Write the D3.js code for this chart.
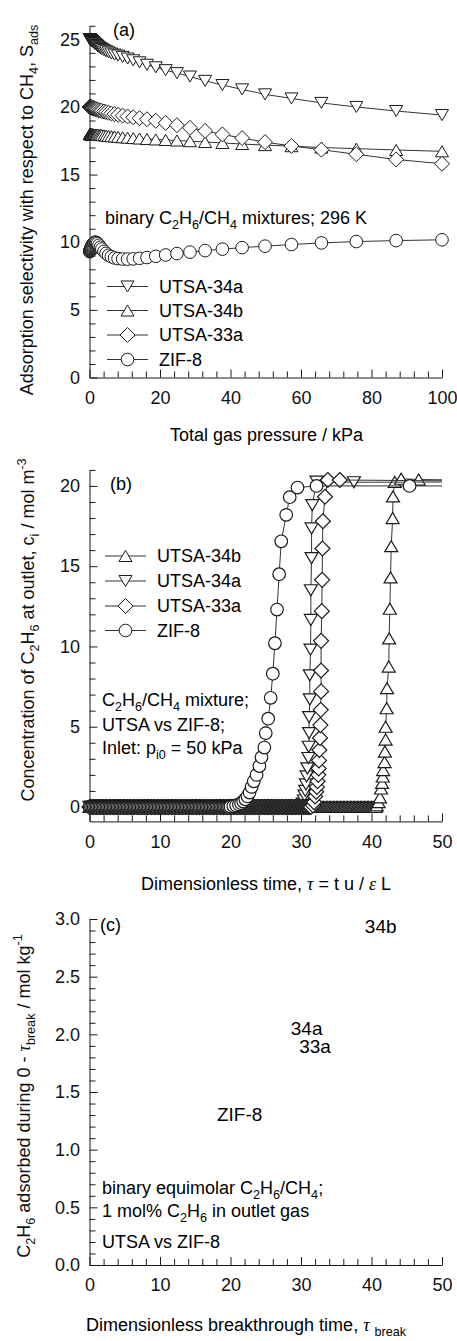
<!DOCTYPE html>
<html>
<head>
<meta charset="utf-8">
<script src="https://cdn.jsdelivr.net/npm/d3@7"></script>
<style>
  body { margin: 0; background: #fff; }
  svg { font-family: "Liberation Sans", Arial, sans-serif; }
  text { white-space: pre; }
</style>
</head>
<body>
<svg id="chart" width="457" height="1341"></svg>
<script>
// ---- panel (a): selectivity vs total pressure ----
const pressure = [0.1, 0.12, 0.14, 0.165, 0.19, 0.22, 0.25, 0.29, 0.33, 0.38,
  0.44, 0.5, 0.58, 0.66, 0.76, 0.88, 1.0, 1.16, 1.33, 1.53,
  1.76, 2.0, 2.3, 2.7, 3.1, 3.5, 4.1, 4.7, 5.4, 6.2,
  7.1, 8.1, 9.4, 10.8, 12.4, 14.2, 16.3, 18.8, 21.6, 24.8,
  28.5, 32.8, 37.7, 43.3, 49.8, 57.3, 65.8, 75.7, 87, 100];
const selUtsa34a = [25.0, 25.0, 25.0, 24.99, 24.99, 24.98, 24.97, 24.96, 24.95, 24.94,
  24.93, 24.92, 24.9, 24.88, 24.87, 24.84, 24.8, 24.76, 24.72, 24.68,
  24.63, 24.58, 24.5, 24.42, 24.35, 24.28, 24.2, 24.12, 24.04, 23.95,
  23.87, 23.8, 23.7, 23.58, 23.45, 23.3, 23.12, 22.93, 22.72, 22.5,
  22.25, 21.93, 21.62, 21.3, 20.93, 20.63, 20.3, 20.0, 19.7, 19.4];
const selUtsa34b = [18.0, 18.0, 18.0, 18.0, 18.0, 18.0, 17.99, 17.99, 17.99, 17.99,
  17.99, 17.98, 17.98, 17.98, 17.98, 17.97, 17.97, 17.97, 17.96, 17.96,
  17.96, 17.95, 17.95, 17.94, 17.93, 17.92, 17.9, 17.88, 17.86, 17.84,
  17.82, 17.79, 17.76, 17.73, 17.7, 17.67, 17.63, 17.6, 17.56, 17.52,
  17.47, 17.41, 17.34, 17.26, 17.18, 17.1, 17.0, 16.92, 16.82, 16.72];
const selUtsa33a = [20.0, 20.0, 20.0, 20.0, 20.0, 19.99, 19.99, 19.99, 19.98, 19.98,
  19.97, 19.97, 19.96, 19.95, 19.94, 19.93, 19.92, 19.9, 19.88, 19.86,
  19.84, 19.82, 19.8, 19.76, 19.73, 19.7, 19.66, 19.62, 19.57, 19.52,
  19.47, 19.42, 19.36, 19.3, 19.24, 19.17, 19.09, 18.98, 18.82, 18.65,
  18.46, 18.23, 17.97, 17.7, 17.4, 17.12, 16.84, 16.5, 16.12, 15.8];
const selZif8 = [9.3, 9.32, 9.34, 9.36, 9.38, 9.4, 9.43, 9.46, 9.5, 9.54,
  9.58, 9.62, 9.67, 9.72, 9.77, 9.83, 9.88, 9.93, 9.97, 10.0,
  10.0, 9.97, 9.9, 9.78, 9.63, 9.5, 9.33, 9.18, 9.04, 8.93,
  8.84, 8.79, 8.76, 8.75, 8.77, 8.81, 8.87, 8.96, 9.06, 9.16,
  9.27, 9.38, 9.49, 9.6, 9.71, 9.83, 9.95, 10.05, 10.12, 10.18];
const aXTicks = [0, 20, 40, 60, 80, 100];
const aYTicks = [0, 5, 10, 15, 20, 25];

// ---- panel (b): breakthrough curves ----
// time points at which the outlet concentration is still zero
const tauGrid = [
  0, 0.2, 0.4, 0.6, 0.8, 1, 1.2, 1.4, 1.6, 1.8, 2, 2.2, 2.4, 2.6, 2.8, 3, 3.2, 3.4, 3.6, 3.8,
  4, 4.2, 4.4, 4.6, 4.8, 5, 5.2, 5.4, 5.6, 5.8, 6, 6.2, 6.4, 6.6, 6.8, 7, 7.2, 7.4, 7.6, 7.8,
  8, 8.2, 8.4, 8.6, 8.8, 9, 9.2, 9.4, 9.6, 9.8, 10, 10.2, 10.4, 10.6, 10.8, 11, 11.2, 11.4, 11.6, 11.8,
  12, 12.2, 12.4, 12.6, 12.8, 13, 13.2, 13.4, 13.6, 13.8, 14, 14.2, 14.4, 14.6, 14.8, 15, 15.2, 15.4, 15.6, 15.8,
  16, 16.2, 16.4, 16.6, 16.8, 17, 17.2, 17.4, 17.6, 17.8, 18, 18.2, 18.4, 18.6, 18.8, 19, 19.2, 19.4, 19.6, 19.8,
  20, 20.2, 20.4, 20.6, 20.8, 21, 21.2, 21.4, 21.6, 21.8, 22, 22.2, 22.4, 22.6, 22.8, 23, 23.2, 23.4, 23.6, 23.8,
  24, 24.2, 24.4, 24.6, 24.8, 25, 25.2, 25.4, 25.6, 25.8, 26, 26.2, 26.4, 26.6, 26.8, 27, 27.2, 27.4, 27.6, 27.8,
  28, 28.2, 28.4, 28.6, 28.8, 29, 29.2, 29.4, 29.6, 29.8, 30, 30.2, 30.4, 30.6, 30.8, 31, 31.2, 31.4, 31.6, 31.8,
  32, 32.2, 32.4, 32.6, 32.8, 33, 33.2, 33.4, 33.6, 33.8, 34, 34.2, 34.4, 34.6, 34.8, 35, 35.2, 35.4, 35.6, 35.8,
  36, 36.2, 36.4, 36.6, 36.8, 37, 37.2, 37.4, 37.6, 37.8, 38, 38.2, 38.4, 38.6, 38.8, 39, 39.2, 39.4, 39.6, 39.8,
  40, 40.2, 40.4, 40.6];
const flatEnd = { "UTSA-34b": 40.6, "UTSA-34a": 30.0, "UTSA-33a": 31.4, "ZIF-8": 19.8 };
const tau34b = [40.75, 41.0, 41.2, 41.35, 41.5, 41.6, 41.65, 41.85, 41.9, 42.0, 42.0, 42.15,
  42.2, 42.45, 42.5, 42.6, 42.7, 42.8, 43.0, 43.05, 43.3, 44.2, 46.7, 56];
const conc34b = [0.1, 0.3, 0.6, 1.15, 1.5, 1.9, 2.3, 2.8, 3.45, 4.2, 5.0, 6.15,
  7.4, 8.75, 10.5, 12.35, 14.3, 16.25, 18.0, 19.35, 20.25, 20.45, 20.4, 20.35];
const tau34a = [30.1, 30.25, 30.4, 30.5, 30.6, 30.7, 30.8, 30.9, 31.05, 31.1, 31.15, 31.15,
  31.25, 31.25, 31.35, 31.4, 31.4, 31.5, 31.5, 31.6, 32.2, 37.5, 56];
const conc34a = [0.08, 0.2, 0.4, 0.7, 1.0, 1.4, 1.9, 2.4, 3.05, 3.75, 4.6, 5.6,
  6.7, 8.2, 9.8, 11.65, 13.5, 15.5, 17.35, 18.8, 20.27, 20.23, 20.25];
const tau33a = [31.7, 31.85, 32.0, 32.15, 32.25, 32.35, 32.45, 32.5, 32.55, 32.6, 32.7, 32.75,
  32.8, 32.85, 32.85, 32.85, 32.95, 33.0, 33.05, 33.1, 33.4, 33.8, 35.5, 56];
const conc33a = [0.1, 0.3, 0.65, 0.95, 1.25, 1.6, 2.0, 2.4, 2.9, 3.55, 4.3, 5.1,
  6.05, 7.2, 8.5, 10.35, 12.2, 14.15, 16.1, 17.8, 19.33, 20.37, 20.37, 20.3];
const tauZif = [20.0, 20.4, 20.8, 21.2, 21.5, 21.8, 22.1, 22.4, 22.7, 23.0, 23.3, 23.7,
  24.1, 24.4, 24.8, 25.0, 25.35, 25.7, 26.0, 26.3, 26.6, 26.9, 27.2, 27.9,
  28.4, 29.5, 32.2, 45.4, 56];
const concZif = [0.03, 0.06, 0.1, 0.16, 0.24, 0.34, 0.48, 0.66, 0.9, 1.25, 1.6, 2.0,
  2.55, 3.1, 3.7, 4.6, 5.5, 6.8, 8.3, 10.2, 12.3, 14.5, 16.55, 18.2,
  19.3, 19.9, 20.0, 20.0, 20.0];
const bXTicks = [0, 10, 20, 30, 40, 50];
const bYTicks = [0, 5, 10, 15, 20];

// ---- panel (c): uptake vs breakthrough time (text labels) ----
const cNames = ["34b", "34a", "33a", "ZIF-8"];
const tauBreak = [41.3, 30.8, 32.0, 21.3];
const uptake = [2.94, 2.05, 1.9, 1.31];
const cXTicks = [0, 10, 20, 30, 40, 50];
const cYTicks = [0, 0.5, 1.0, 1.5, 2.0, 2.5, 3.0];

const svg = d3.select("#chart");
const xLeft = 89.5, xRight = 442;
const ink = "#1a1a1a";
const FS = 18;

const symbols = {
  down: s => `M${-s},${-s * 0.85}L${s},${-s * 0.85}L0,${s * 0.85}Z`,
  up: s => `M${-s},${s * 0.85}L${s},${s * 0.85}L0,${-s * 0.85}Z`,
  diamond: s => `M0,${-s * 1.15}L${s * 1.15},0L0,${s * 1.15}L${-s * 1.15},0Z`,
  circle: s => `M${-s * 0.97},0A${s * 0.97},${s * 0.97} 0 1,0 ${s * 0.97},0A${s * 0.97},${s * 0.97} 0 1,0 ${-s * 0.97},0Z`
};
const SYM = 6.5;

function rich(sel, parts, size) {
  let shift = 0;
  parts.forEach(p => {
    const seg = typeof p === "string" ? { t: p } : p;
    const fs = seg.sub || seg.sup ? size * 0.7 : size;
    const target = seg.sub ? size * 0.3 : seg.sup ? -size * 0.42 : 0;
    const ts = sel.append("tspan").text(seg.t).attr("font-size", fs).attr("dy", target - shift);
    if (seg.greek) ts.attr("font-family", "'Liberation Serif', serif").attr("font-style", "italic");
    shift = target;
  });
  return sel;
}

function axes(g, x, y, o) {
  const y0 = y.range()[0];
  const bottom = g.append("g").attr("transform", `translate(0,${y0})`);
  bottom.append("g")
    .call(d3.axisBottom(x).tickValues(o.xMinor).tickSize(-6).tickFormat("").tickSizeOuter(0))
    .call(s => s.select(".domain").remove());
  bottom.append("g")
    .call(d3.axisBottom(x).tickValues(o.xTicks).tickSize(-8).tickSizeOuter(0).tickPadding(13.5))
    .attr("font-family", null).attr("font-size", FS);
  const left = g.append("g").attr("transform", `translate(${xLeft},0)`);
  left.append("g")
    .call(d3.axisLeft(y).tickValues(o.yMinor).tickSize(-6).tickFormat("").tickSizeOuter(0))
    .call(s => s.select(".domain").remove());
  left.append("g")
    .call(d3.axisLeft(y).tickValues(o.yTicks).tickSize(-8).tickSizeOuter(0).tickPadding(9.5)
      .tickFormat(o.yFmt || d3.format("d")))
    .attr("font-family", null).attr("font-size", FS);
  g.selectAll(".tick line, .domain").attr("stroke", ink);
  g.selectAll(".tick text").attr("fill", "#111");
}

function series(g, x, y, pts, sym, sw = 1) {
  const s = g.append("g");
  s.append("path").datum(pts)
    .attr("d", d3.line().x(d => x(d[0])).y(d => y(d[1])))
    .attr("fill", "none").attr("stroke", "#333").attr("stroke-width", 1);
  s.selectAll("path.m").data(pts).join("path").attr("class", "m")
    .attr("transform", d => `translate(${x(d[0])},${y(d[1])})`)
    .attr("d", symbols[sym](SYM))
    .attr("fill", "#fff").attr("stroke", ink).attr("stroke-width", sw);
}

function legend(g, items, x0, rows) {
  items.forEach((it, i) => {
    const row = g.append("g").attr("transform", `translate(${x0},${rows[i]})`);
    row.append("line").attr("x1", 0).attr("x2", 41).attr("stroke", "#333");
    row.append("path").attr("transform", "translate(20.5,0)").attr("d", symbols[it.sym](SYM))
      .attr("fill", "#fff").attr("stroke", ink);
    row.append("text").attr("x", 52).attr("dy", "0.36em").attr("font-size", FS).text(it.name);
  });
}

function ytitle(x, y, parts) {
  rich(svg.append("text").attr("transform", `translate(${x},${y}) rotate(-90)`)
    .attr("text-anchor", "middle").attr("fill", "#111"), parts, FS);
}

// ================= panel (a) =================
{
  const g = svg.append("g");
  const x = d3.scaleLinear().domain([0, 100]).range([xLeft, xRight]);
  const y = d3.scaleLinear().domain([0, 26]).range([377.5, 25.8]);
  axes(g, x, y, {
    xTicks: aXTicks, xMinor: d3.range(0, 101, 4).filter(v => v % 20),
    yTicks: aYTicks, yMinor: d3.range(0, 27, 1).filter(v => v % 5)
  });
  const zipA = vals => pressure.map((p, i) => [p, vals[i]]);
  series(g, x, y, zipA(selUtsa34a), "down");
  series(g, x, y, zipA(selUtsa34b), "up");
  series(g, x, y, zipA(selUtsa33a), "diamond");
  series(g, x, y, zipA(selZif8), "circle");
  g.append("text").attr("x", 113).attr("y", 36).attr("font-size", FS).text("(a)");
  rich(g.append("text").attr("x", 105).attr("y", 224),
    ["binary C", { t: "2", sub: 1 }, "H", { t: "6", sub: 1 }, "/CH", { t: "4", sub: 1 }, " mixtures; 296 K"], FS);
  legend(g, [{ name: "UTSA-34a", sym: "down" }, { name: "UTSA-34b", sym: "up" },
    { name: "UTSA-33a", sym: "diamond" }, { name: "ZIF-8", sym: "circle" }], 107, [286.5, 310.5, 335, 359.5]);
  g.append("text").attr("x", 266.5).attr("y", 441).attr("text-anchor", "middle").attr("font-size", FS)
    .text("Total gas pressure / kPa");
  ytitle(33, 210, ["Adsorption selectivity with respect to CH", { t: "4", sub: 1 }, ", S", { t: "ads", sub: 1 }]);
}

// ================= panel (b) =================
{
  const g = svg.append("g");
  const x = d3.scaleLinear().domain([0, 50]).range([xLeft, xRight]);
  const y = d3.scaleLinear().domain([-0.9, 21]).range([821.4, 469.9]);
  axes(g, x, y, {
    xTicks: bXTicks, xMinor: d3.range(0, 51, 2).filter(v => v % 10),
    yTicks: bYTicks, yMinor: d3.range(0, 22, 1).filter(v => v % 5)
  });
  svg.append("clipPath").attr("id", "clipB").append("rect")
    .attr("x", 0).attr("y", 400).attr("width", xRight).attr("height", 440);
  const plot = g.append("g").attr("clip-path", "url(#clipB)");
  const build = (name, taus, cs) =>
    tauGrid.filter(t => t <= flatEnd[name]).map(t => [t, 0]).concat(taus.map((t, i) => [t, cs[i]]));
  series(plot, x, y, build("UTSA-34b", tau34b, conc34b), "up", 1.2);
  series(plot, x, y, build("UTSA-34a", tau34a, conc34a), "down", 1.2);
  series(plot, x, y, build("UTSA-33a", tau33a, conc33a), "diamond", 1.2);
  series(plot, x, y, build("ZIF-8", tauZif, concZif), "circle", 1.2);
  g.append("text").attr("x", 110).attr("y", 490).attr("font-size", FS).text("(b)");
  legend(g, [{ name: "UTSA-34b", sym: "up" }, { name: "UTSA-34a", sym: "down" },
    { name: "UTSA-33a", sym: "diamond" }, { name: "ZIF-8", sym: "circle" }], 105, [556, 581, 606, 630.5]);
  rich(g.append("text").attr("x", 102).attr("y", 706),
    ["C", { t: "2", sub: 1 }, "H", { t: "6", sub: 1 }, "/CH", { t: "4", sub: 1 }, " mixture;"], FS);
  g.append("text").attr("x", 102).attr("y", 731).attr("font-size", FS).text("UTSA vs ZIF-8;");
  rich(g.append("text").attr("x", 102).attr("y", 753.5),
    ["Inlet: p", { t: "i0", sub: 1 }, " = 50 kPa"], FS);
  rich(g.append("text").attr("x", 266).attr("y", 890).attr("text-anchor", "middle"),
    ["Dimensionless time, ", { t: "\u03c4", greek: 1 }, " = t u / ", { t: "\u03b5", greek: 1 }, " L"], FS);
  ytitle(34, 630, ["Concentration of C", { t: "2", sub: 1 }, "H", { t: "6", sub: 1 }, " at outlet, c",
    { t: "i", sub: 1 }, " / mol m", { t: "-3", sup: 1 }]);
}

// ================= panel (c) =================
{
  const g = svg.append("g");
  const x = d3.scaleLinear().domain([0, 50]).range([xLeft, xRight]);
  const y = d3.scaleLinear().domain([0, 3]).range([1265, 919]);
  axes(g, x, y, {
    xTicks: cXTicks, xMinor: d3.range(0, 51, 2).filter(v => v % 10),
    yTicks: cYTicks, yMinor: d3.range(1, 30).filter(v => v % 5).map(v => v / 10),
    yFmt: d3.format(".1f")
  });
  g.selectAll("text.lab").data(cNames).join("text").attr("class", "lab")
    .attr("x", (d, i) => x(tauBreak[i])).attr("y", (d, i) => y(uptake[i]))
    .attr("text-anchor", "middle").attr("dy", "0.36em").attr("font-size", 19).text(d => d);
  g.append("text").attr("x", 100).attr("y", 931).attr("font-size", FS).text("(c)");
  rich(g.append("text").attr("x", 102).attr("y", 1194),
    ["binary equimolar C", { t: "2", sub: 1 }, "H", { t: "6", sub: 1 }, "/CH", { t: "4", sub: 1 }, ";"], FS);
  rich(g.append("text").attr("x", 102).attr("y", 1217),
    ["1 mol% C", { t: "2", sub: 1 }, "H", { t: "6", sub: 1 }, " in outlet gas"], FS);
  g.append("text").attr("x", 102).attr("y", 1248).attr("font-size", FS).text("UTSA vs ZIF-8");
  rich(g.append("text").attr("x", 86).attr("y", 1331),
    ["Dimensionless breakthrough time, ", { t: "\u03c4", greek: 1 }, " ", { t: "break", sub: 1 }], FS);
  ytitle(30, 1096, ["C", { t: "2", sub: 1 }, "H", { t: "6", sub: 1 }, " adsorbed during 0 - ",
    { t: "\u03c4", greek: 1 }, { t: "break", sub: 1 }, " / mol kg", { t: "-1", sup: 1 }]);
}
</script>
</body>
</html>
